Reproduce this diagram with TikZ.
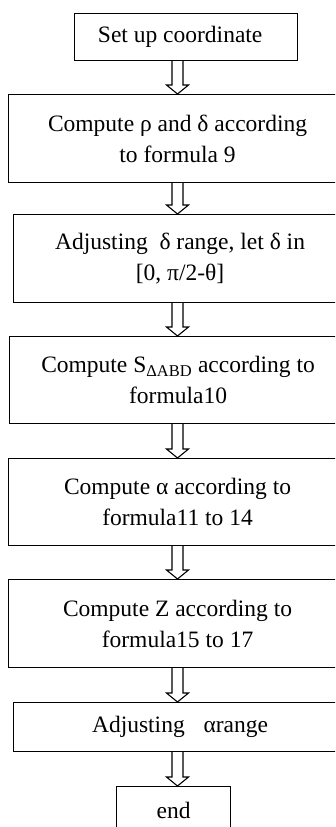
\documentclass[tikz,border=0pt]{standalone}
\usepackage{fontspec}
\setmainfont{Liberation Serif}
\usetikzlibrary{calc, positioning}

% hollow block arrow between two steps, on the common axis
\newcommand{\flowarrow}[2]{%
  \draw[hollow] let \p1=(#1.south -| ax), \p2=(#2.north -| ax) in
    (\x1-5.5pt,\y1) -- (\x1-5.5pt,\y2+9pt) -- (\x1-11pt,\y2+9pt) -- (\x2,\y2)
    -- (\x1+11pt,\y2+9pt) -- (\x1+5.5pt,\y2+9pt) -- (\x1+5.5pt,\y1);
}

\begin{document}
\begin{tikzpicture}[
    x=1pt, y=-1pt,
    font=\fontsize{23.5}{31}\selectfont,
    stepbox/.style={rectangle, draw, line width=1.1pt, align=center, anchor=north west, inner sep=0pt},
    hollow/.style={draw, line width=1.1pt, fill=white}
]
\useasboundingbox (0,0) rectangle (335,827);
\clip (0,0) rectangle (335,827);

\coordinate (ax) at (177.5,0);

% Steps
\node[stepbox, minimum width=223pt, minimum height=47pt] (setup) at (74,13) {Set up coordinate\hspace{0.5em}};
\node[stepbox, minimum width=338pt, minimum height=88pt] (rho) at (8,94) {Compute ρ and δ according\\to formula 9};
\node[stepbox, minimum width=333pt, minimum height=88pt] (delta) at (13,214) {Adjusting\ \ δ range, let δ in\\{}[0, π/2-θ]};
\node[stepbox, minimum width=337pt, minimum height=87pt] (area) at (9,336) {Compute S\textsubscript{ΔABD} according to\\formula10};
\node[stepbox, minimum width=338pt, minimum height=87pt] (alpha) at (8,458) {Compute α according to\\formula11 to 14};
\node[stepbox, minimum width=338pt, minimum height=88pt] (zval) at (8,579) {Compute Z according to\\formula15 to 17};
\node[stepbox, minimum width=333pt, minimum height=49pt] (arange) at (13,702) {Adjusting\hspace{0.8em}αrange};
\node[stepbox, minimum width=114pt, minimum height=48pt] (stop) at (116,786) {end};

% Arrows
\flowarrow{setup}{rho}
\flowarrow{rho}{delta}
\flowarrow{delta}{area}
\flowarrow{area}{alpha}
\flowarrow{alpha}{zval}
\flowarrow{zval}{arange}
\flowarrow{arange}{stop}

\end{tikzpicture}
\end{document}
